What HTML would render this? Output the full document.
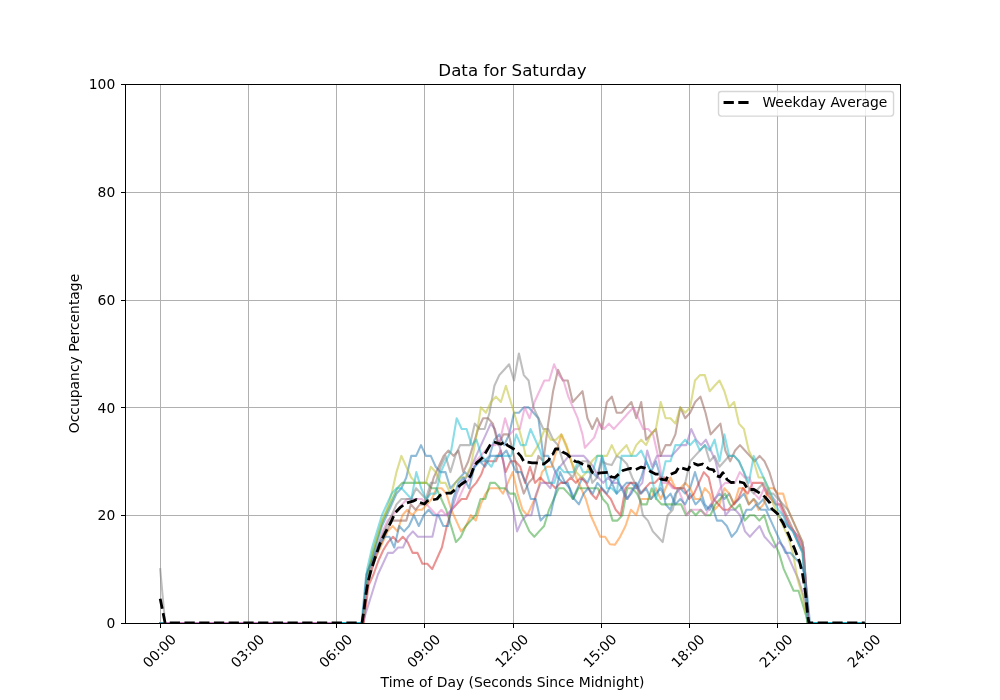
<!DOCTYPE html>
<html lang="en"><head><meta charset="utf-8"><title>Data for Saturday</title>
<style>html,body{margin:0;padding:0;background:#fff;overflow:hidden}svg{display:block}</style>
</head><body>
<svg width="1000" height="700" viewBox="0 0 1000 700">
<rect x="0" y="0" width="1000" height="700" fill="#ffffff"/>
<clipPath id="axclip"><rect x="125.5" y="84.5" width="775" height="539"/></clipPath>
<g stroke="#b0b0b0" stroke-width="1" fill="none" shape-rendering="crispEdges">
<line x1="160.5" y1="84.5" x2="160.5" y2="623.5"/>
<line x1="248.5" y1="84.5" x2="248.5" y2="623.5"/>
<line x1="336.5" y1="84.5" x2="336.5" y2="623.5"/>
<line x1="424.5" y1="84.5" x2="424.5" y2="623.5"/>
<line x1="513.5" y1="84.5" x2="513.5" y2="623.5"/>
<line x1="601.5" y1="84.5" x2="601.5" y2="623.5"/>
<line x1="689.5" y1="84.5" x2="689.5" y2="623.5"/>
<line x1="777.5" y1="84.5" x2="777.5" y2="623.5"/>
<line x1="865.5" y1="84.5" x2="865.5" y2="623.5"/>
<line x1="125.5" y1="623.5" x2="900.5" y2="623.5"/>
<line x1="125.5" y1="515.5" x2="900.5" y2="515.5"/>
<line x1="125.5" y1="407.5" x2="900.5" y2="407.5"/>
<line x1="125.5" y1="300.5" x2="900.5" y2="300.5"/>
<line x1="125.5" y1="192.5" x2="900.5" y2="192.5"/>
<line x1="125.5" y1="84.5" x2="900.5" y2="84.5"/>
</g>
<g stroke="#000000" stroke-width="1" fill="none" shape-rendering="crispEdges">
<line x1="160.5" y1="623.5" x2="160.5" y2="628.36"/>
<line x1="248.5" y1="623.5" x2="248.5" y2="628.36"/>
<line x1="336.5" y1="623.5" x2="336.5" y2="628.36"/>
<line x1="424.5" y1="623.5" x2="424.5" y2="628.36"/>
<line x1="513.5" y1="623.5" x2="513.5" y2="628.36"/>
<line x1="601.5" y1="623.5" x2="601.5" y2="628.36"/>
<line x1="689.5" y1="623.5" x2="689.5" y2="628.36"/>
<line x1="777.5" y1="623.5" x2="777.5" y2="628.36"/>
<line x1="865.5" y1="623.5" x2="865.5" y2="628.36"/>
<line x1="120.64" y1="623.5" x2="125.5" y2="623.5"/>
<line x1="120.64" y1="515.5" x2="125.5" y2="515.5"/>
<line x1="120.64" y1="407.5" x2="125.5" y2="407.5"/>
<line x1="120.64" y1="300.5" x2="125.5" y2="300.5"/>
<line x1="120.64" y1="192.5" x2="125.5" y2="192.5"/>
<line x1="120.64" y1="84.5" x2="125.5" y2="84.5"/>
</g>
<g clip-path="url(#axclip)" fill="none" stroke-width="2.083" stroke-linejoin="round" stroke-linecap="square" stroke-opacity="0.5">
<polyline stroke="#1f77b4" points="160.2,623.0 362.3,623.0 367.2,574.5 372.1,558.3 377.0,542.1 381.9,526.0 386.8,515.2 391.7,504.4 396.5,493.6 401.4,488.2 406.3,477.5 411.2,455.9 416.1,455.9 421.0,445.1 425.9,455.9 430.8,455.9 435.7,466.7 440.6,472.1 445.5,472.1 450.4,488.2 455.3,482.9 460.1,477.5 465.0,472.1 469.9,477.5 474.8,466.7 479.7,461.3 484.6,461.3 489.5,455.9 494.4,439.7 499.3,434.4 504.2,445.1 509.1,434.4 514.0,412.8 518.9,412.8 523.8,407.4 528.6,407.4 533.5,412.8 538.4,418.2 543.3,455.9 548.2,455.9 553.1,466.7 558.0,477.5 562.9,482.9 567.8,482.9 572.7,499.0 577.6,488.2 582.5,477.5 587.4,482.9 592.3,472.1 597.1,477.5 602.0,455.9 606.9,472.1 611.8,482.9 616.7,477.5 621.6,488.2 626.5,482.9 631.4,482.9 636.3,488.2 641.2,477.5 646.1,461.3 651.0,472.1 655.9,461.3 660.7,477.5 665.6,504.4 670.5,509.8 675.4,493.6 680.3,488.2 685.2,493.6 690.1,488.2 695.0,472.1 699.9,488.2 704.8,504.4 709.7,509.8 714.6,499.0 719.5,493.6 724.4,499.0 729.2,493.6 734.1,504.4 739.0,499.0 743.9,493.6 748.8,504.4 753.7,499.0 758.6,504.4 763.5,499.0 768.4,509.8 773.3,509.8 778.2,515.2 783.1,520.6 788.0,526.0 792.9,531.4 797.7,542.1 802.6,552.9 807.5,623.0 864.8,623.0"/>
<polyline stroke="#ff7f0e" points="160.2,623.0 363.3,623.0 368.2,579.9 373.1,563.7 378.0,552.9 382.8,542.1 387.7,531.4 392.6,526.0 397.5,531.4 402.4,515.2 407.3,509.8 412.2,515.2 417.1,509.8 422.0,509.8 426.9,504.4 431.8,499.0 436.7,488.2 441.6,488.2 446.4,493.6 451.3,509.8 456.2,520.6 461.1,531.4 466.0,526.0 470.9,515.2 475.8,520.6 480.7,504.4 485.6,493.6 489.9,488.2 494.3,488.2 498.6,488.2 503.0,493.6 507.8,482.9 512.7,472.1 517.6,493.6 522.5,509.8 527.3,515.2 532.2,504.4 537.1,493.6 542.0,472.1 546.9,466.7 551.7,466.7 556.6,450.5 561.5,434.4 566.4,445.1 571.2,461.3 576.1,477.5 581.0,488.2 585.8,499.0 590.6,515.2 595.5,526.0 600.3,536.8 605.1,536.8 609.9,544.3 614.8,544.8 620.1,536.8 625.5,526.0 630.9,509.8 636.3,515.2 641.2,499.0 646.1,499.0 651.0,499.0 655.9,488.2 660.7,499.0 665.6,488.2 670.5,477.5 675.4,488.2 680.3,488.2 685.2,482.9 690.1,488.2 695.0,499.0 699.9,499.0 704.8,488.2 709.7,493.6 714.6,509.8 719.5,504.4 724.4,488.2 729.2,493.6 734.1,504.4 739.0,488.2 743.9,488.2 748.8,504.4 753.7,499.0 758.6,509.8 763.5,504.4 768.4,488.2 773.3,488.2 778.2,493.6 783.1,493.6 788.0,509.8 792.9,520.6 797.7,531.4 802.6,542.1 807.5,623.0 864.8,623.0"/>
<polyline stroke="#2ca02c" points="160.2,623.0 363.0,623.0 367.9,574.5 372.8,552.9 377.7,536.8 382.6,520.6 387.5,509.8 392.4,499.0 397.3,488.2 402.2,482.9 407.1,482.9 412.0,482.9 416.8,482.9 421.7,482.9 426.6,482.9 431.5,488.2 436.4,488.2 441.3,499.0 446.2,509.8 451.1,526.0 456.0,542.1 460.9,536.8 465.8,526.0 470.7,520.6 475.6,515.2 480.5,499.0 485.3,499.0 490.2,482.9 495.1,482.9 500.0,488.2 504.9,488.2 509.8,493.6 514.7,493.6 519.6,509.8 524.5,520.6 529.4,531.4 534.3,536.8 539.2,531.4 544.1,526.0 549.0,509.8 553.8,499.0 558.7,488.2 563.6,488.2 568.5,493.6 573.4,499.0 578.3,488.2 583.2,488.2 588.1,488.2 593.0,488.2 597.9,488.2 602.8,499.0 607.7,504.4 612.6,520.6 617.4,520.6 622.3,515.2 627.2,488.2 632.1,488.2 637.0,493.6 641.9,504.4 646.8,504.4 651.7,488.2 656.6,499.0 661.5,504.4 666.4,504.4 671.3,504.4 676.2,504.4 681.1,504.4 685.9,515.2 690.8,509.8 695.7,515.2 700.6,509.8 705.5,515.2 710.4,515.2 715.3,504.4 720.2,499.0 725.1,493.6 730.0,504.4 734.9,509.8 739.8,504.4 744.7,520.6 749.6,515.2 754.4,515.2 759.3,520.6 764.2,515.2 769.1,531.4 774.0,542.1 778.9,552.9 783.8,569.1 788.7,579.9 793.6,590.7 798.5,590.7 803.4,606.8 808.3,623.0 864.8,623.0"/>
<polyline stroke="#d62728" points="160.2,623.0 363.7,623.0 368.6,585.3 373.5,574.5 378.3,561.0 383.2,550.2 388.1,542.1 393.0,536.8 397.9,542.1 402.8,536.8 407.7,542.1 412.6,552.9 417.5,552.9 422.4,563.7 427.3,563.7 432.2,569.1 437.1,558.3 441.9,547.5 446.8,526.0 451.7,509.8 456.6,504.4 461.5,499.0 466.4,499.0 471.3,488.2 476.2,482.9 481.1,474.8 486.0,461.3 490.9,461.3 495.8,461.3 500.7,450.5 505.6,472.1 510.4,461.3 515.3,461.3 520.2,466.7 525.1,482.9 530.0,466.7 535.1,482.9 540.2,477.5 545.3,482.9 550.4,482.9 555.5,488.2 560.5,482.9 565.6,482.9 570.7,477.5 575.8,482.9 580.9,477.5 586.0,482.9 591.1,493.6 596.2,499.0 601.1,488.2 606.0,493.6 610.8,499.0 615.7,509.8 620.6,515.2 625.5,488.2 630.4,482.9 635.3,482.9 640.2,493.6 645.1,488.2 650.0,482.9 654.9,482.9 659.8,477.5 664.7,477.5 669.6,482.9 674.4,488.2 679.3,488.2 684.2,488.2 689.1,499.0 694.0,493.6 698.9,482.9 703.8,472.1 708.7,477.5 713.6,499.0 718.5,504.4 723.4,509.8 728.3,509.8 733.2,504.4 738.1,499.0 742.9,488.2 747.8,493.6 752.7,482.9 757.3,482.9 761.9,482.9 766.5,493.6 771.1,499.0 775.7,504.4 780.3,504.4 784.8,515.2 789.4,526.0 794.2,531.4 799.0,542.1 803.7,552.9 808.5,623.0 864.8,623.0"/>
<polyline stroke="#9467bd" points="160.2,623.0 362.8,623.0 367.8,606.8 372.8,590.7 377.9,574.5 382.9,563.7 387.9,552.9 393.0,552.9 398.0,547.5 403.0,547.5 408.0,536.8 412.9,531.4 417.8,536.8 422.6,536.8 427.5,536.8 432.4,536.8 437.2,515.2 442.1,515.2 447.0,515.2 451.8,509.8 456.7,493.6 461.5,482.9 466.4,477.5 471.3,466.7 476.1,455.9 481.0,445.1 485.9,434.4 490.7,423.6 494.9,429.0 499.2,445.1 503.4,461.3 507.6,493.6 512.4,504.4 517.1,531.4 521.9,520.6 526.6,515.2 531.4,515.2 536.2,493.6 540.9,482.9 545.7,482.9 550.4,488.2 555.2,472.1 560.0,466.7 569.0,455.9 573.9,455.9 578.8,455.9 583.7,455.9 588.6,461.3 593.4,466.7 598.3,477.5 603.2,482.9 608.1,477.5 613.0,482.9 617.9,482.9 622.8,488.2 627.7,499.0 632.6,488.2 637.4,488.2 642.3,482.9 647.2,450.5 652.1,466.7 657.0,455.9 661.9,455.9 666.8,455.9 671.7,455.9 676.5,450.5 681.4,445.1 686.3,445.1 691.2,429.0 696.1,439.7 701.0,445.1 705.9,439.7 710.8,450.5 715.6,461.3 720.5,482.9 725.4,515.2 730.3,509.8 735.2,509.8 740.1,515.2 745.0,531.4 749.9,536.8 754.7,531.4 759.6,526.0 764.5,536.8 769.4,542.1 774.3,547.5 779.2,542.1 784.1,547.5 789.0,558.3 793.8,569.1 798.7,579.9 803.6,596.0 808.5,623.0 864.8,623.0"/>
<polyline stroke="#8c564b" points="160.2,623.0 362.3,623.0 367.2,585.3 372.1,569.1 377.0,552.9 381.9,542.1 386.8,531.4 391.7,520.6 396.5,520.6 401.4,520.6 406.3,520.6 410.9,504.4 415.5,509.8 420.0,504.4 424.6,504.4 429.2,493.6 433.7,477.5 438.7,466.7 443.6,455.9 448.5,450.5 453.5,455.9 458.4,450.5 463.3,472.1 468.3,461.3 473.2,445.1 478.1,429.0 483.1,418.2 488.0,418.2 492.9,423.6 498.2,445.1 503.4,434.4 508.7,434.4 514.0,455.9 518.9,477.5 523.8,493.6 528.6,482.9 533.5,477.5 538.4,455.9 543.3,461.3 548.2,423.6 553.1,391.2 558.0,369.7 562.9,380.5 567.8,380.5 572.7,402.0 577.6,396.6 582.5,391.2 587.4,418.2 592.3,429.0 597.1,418.2 602.0,429.0 606.9,402.0 611.8,396.6 616.7,412.8 621.6,412.8 626.5,407.4 631.4,402.0 636.3,418.2 641.2,402.0 646.1,439.7 651.0,434.4 655.9,429.0 660.7,455.9 665.6,445.1 670.5,445.1 675.4,434.4 680.3,407.4 685.2,418.2 690.1,412.8 695.2,402.0 700.4,396.6 705.5,412.8 710.7,434.4 715.5,429.0 720.4,423.6 725.3,450.5 730.2,461.3 735.1,450.5 740.0,445.1 744.9,450.5 749.8,455.9 754.7,461.3 759.6,455.9 764.5,461.3 769.4,472.1 774.3,488.2 779.2,499.0 784.0,509.8 788.9,520.6 793.8,531.4 798.7,536.8 803.6,547.5 808.5,623.0 864.8,623.0"/>
<polyline stroke="#e377c2" points="160.2,623.0 363.0,623.0 367.9,579.9 372.8,563.7 377.7,547.5 382.6,531.4 387.5,520.6 392.4,515.2 397.3,509.8 402.2,504.4 407.1,499.0 412.0,499.0 416.9,499.0 421.8,499.0 426.7,504.4 431.6,509.8 436.5,515.2 441.4,509.8 446.3,515.2 451.2,509.8 456.1,504.4 461.0,493.6 465.9,482.9 470.8,477.5 475.7,461.3 480.6,455.9 485.5,450.5 490.4,445.1 495.3,445.1 500.2,439.7 505.1,418.2 510.0,434.4 514.9,429.0 519.8,429.0 524.7,407.4 529.6,418.2 534.5,402.0 539.4,391.2 544.3,380.5 549.2,380.5 554.1,364.3 558.8,375.1 563.5,380.5 568.3,396.6 573.0,407.4 577.7,418.2 582.5,434.4 584.9,447.8 589.8,442.4 594.2,437.6 599.1,423.6 604.0,429.0 608.9,423.6 613.8,429.0 618.7,423.6 623.6,418.2 628.5,412.8 633.5,407.4 638.4,418.2 643.3,429.0 648.2,429.0 653.1,434.4 658.0,455.9 662.9,482.9 667.8,482.9 672.7,488.2 677.6,488.2 682.3,499.0 687.0,515.2 691.7,509.8 696.4,509.8 701.0,509.8 705.7,515.2 710.4,504.4 715.3,499.0 720.2,488.2 725.1,482.9 730.0,482.9 734.9,482.9 739.8,472.1 744.7,477.5 749.6,477.5 754.4,493.6 759.3,499.0 764.2,488.2 769.1,493.6 774.0,499.0 778.9,504.4 783.8,515.2 788.7,526.0 793.6,531.4 798.5,536.8 803.4,547.5 808.3,623.0 864.8,623.0"/>
<polyline stroke="#7f7f7f" points="160.2,569.1 165.1,623.0 362.3,623.0 367.2,579.9 372.1,563.7 377.0,547.5 381.9,536.8 386.8,526.0 391.7,515.2 396.5,504.4 401.4,499.0 406.3,499.0 411.2,499.0 416.1,488.2 421.0,493.6 425.9,499.0 430.8,482.9 435.7,482.9 440.6,466.7 445.5,455.9 450.4,472.1 455.3,455.9 460.1,445.1 465.0,445.1 469.9,445.1 474.8,423.6 479.7,429.0 484.6,429.0 489.5,412.8 494.4,385.8 499.3,375.1 504.2,369.7 509.1,364.3 514.0,380.5 518.9,353.5 523.8,375.1 528.6,380.5 533.5,407.4 538.4,418.2 543.3,429.0 548.2,429.0 553.1,439.7 558.0,445.1 562.9,461.3 567.8,472.1 572.7,477.5 577.6,466.7 582.5,461.3 587.4,461.3 592.3,482.9 597.1,477.5 602.0,461.3 606.9,464.0 611.8,465.1 616.7,455.9 621.6,458.6 626.9,464.0 632.2,477.5 637.6,488.2 642.9,515.2 647.9,520.6 652.8,531.4 657.8,536.8 662.7,542.1 667.7,515.2 672.7,509.8 677.6,488.2 683.3,488.2 685.2,482.9 690.1,461.3 695.0,455.9 699.9,450.5 704.8,445.1 709.7,461.3 714.6,455.9 719.5,466.7 724.4,461.3 729.2,455.9 734.1,455.9 739.0,461.3 743.9,472.1 748.8,488.2 753.7,493.6 758.6,488.2 763.5,482.9 768.4,493.6 773.3,493.6 778.2,499.0 783.1,504.4 788.0,509.8 792.9,520.6 797.7,531.4 802.6,542.1 807.5,623.0 864.8,623.0"/>
<polyline stroke="#bcbd22" points="160.2,623.0 362.3,623.0 367.2,574.5 372.1,552.9 377.0,536.8 381.9,520.6 386.8,509.8 391.7,493.6 396.5,472.1 401.4,455.9 406.3,466.7 411.2,477.5 416.1,482.9 421.0,482.9 425.9,482.9 430.8,466.7 435.7,472.1 440.6,482.9 445.5,482.9 450.4,493.6 455.3,482.9 460.4,477.5 465.5,477.5 470.7,466.7 475.8,439.7 480.9,407.4 485.9,412.8 490.9,402.0 495.9,396.6 500.9,402.0 505.9,385.8 510.8,402.0 515.7,418.2 520.6,434.4 523.3,445.1 525.7,455.9 531.6,455.9 538.4,445.1 544.8,429.0 550.7,439.7 556.0,439.7 561.2,434.4 564.4,442.4 567.8,450.5 571.2,461.3 576.3,472.1 581.5,477.5 586.6,472.1 591.8,461.3 596.9,455.9 602.0,455.9 606.9,455.9 611.8,445.1 616.7,455.9 621.6,450.5 626.5,445.1 631.4,455.9 636.3,445.1 641.2,439.7 646.1,445.1 651.0,434.4 655.9,429.0 660.7,402.0 665.6,418.2 670.5,418.2 675.4,423.6 680.3,407.4 685.2,412.8 690.1,407.4 695.0,380.5 699.9,375.1 704.8,375.1 709.7,391.2 714.6,385.8 719.5,380.5 724.4,391.2 729.2,407.4 734.1,402.0 739.0,423.6 743.9,429.0 748.8,450.5 753.7,461.3 758.6,477.5 763.5,477.5 768.4,488.2 773.3,504.4 778.2,515.2 783.1,526.0 788.0,536.8 792.9,552.9 797.7,579.9 802.6,596.0 807.5,623.0 864.8,623.0"/>
<polyline stroke="#17becf" points="160.2,623.0 362.3,623.0 367.2,569.1 372.1,547.5 377.0,531.4 381.9,515.2 386.8,504.4 391.7,493.6 396.6,488.2 401.6,488.2 406.5,493.6 411.4,499.0 416.3,472.1 421.2,488.2 426.1,499.0 431.0,493.6 435.9,493.6 440.8,472.1 445.7,461.3 451.2,450.5 456.7,418.2 461.7,429.0 466.6,429.0 471.6,445.1 476.5,439.7 481.5,455.9 486.4,461.3 491.4,466.7 496.4,455.9 501.3,455.9 506.3,455.9 511.2,455.9 516.2,434.4 520.9,445.1 525.7,445.1 530.5,429.0 535.3,439.7 540.0,450.5 544.8,466.7 549.6,482.9 554.3,482.9 559.1,466.7 563.9,472.1 568.6,472.1 573.4,472.1 578.2,461.3 583.0,472.1 587.7,472.1 592.5,472.1 597.3,455.9 602.0,455.9 606.9,488.2 611.8,488.2 616.7,493.6 621.6,455.9 626.5,455.9 631.4,455.9 636.3,455.9 641.2,450.5 646.1,461.3 651.0,472.1 655.9,499.0 660.7,482.9 665.6,461.3 670.5,461.3 675.4,445.1 680.3,445.1 685.2,439.7 690.1,445.1 695.0,439.7 699.9,450.5 704.8,445.1 709.7,450.5 714.6,439.7 719.5,461.3 724.4,434.4 729.2,455.9 734.1,455.9 739.0,461.3 743.9,472.1 748.8,482.9 753.7,455.9 758.6,466.7 763.5,477.5 768.4,488.2 773.3,499.0 778.2,509.8 783.1,515.2 788.0,526.0 792.9,531.4 797.7,542.1 802.6,552.9 807.5,623.0 864.8,623.0"/>
<polyline stroke="#1f77b4" points="160.2,623.0 361.6,623.0 366.2,574.5 370.9,563.7 375.5,552.9 380.2,542.1 384.8,536.8 389.4,536.8 394.3,547.5 399.2,526.0 404.1,531.4 409.0,526.0 413.9,515.2 418.8,526.0 423.7,515.2 428.6,509.8 433.5,515.2 438.4,515.2 443.3,526.0 448.2,526.0 453.1,499.0 458.4,482.9 463.7,477.5 469.1,488.2 474.4,466.7 479.7,461.3 485.1,466.7 490.4,455.9 495.7,455.9 501.1,455.9 506.4,450.5 511.3,461.3 516.2,472.1 521.1,472.1 526.0,482.9 530.8,499.0 535.7,499.0 540.6,520.6 545.5,515.2 550.4,515.2 555.3,493.6 560.2,472.1 565.1,482.9 569.7,488.2 574.3,499.0 578.9,504.4 583.6,493.6 588.2,488.2 592.8,493.6 597.4,482.9 602.0,488.2 606.9,493.6 611.8,482.9 616.7,493.6 621.6,488.2 626.5,499.0 631.4,493.6 636.3,482.9 641.2,493.6 646.1,488.2 651.0,499.0 655.9,493.6 660.7,488.2 665.6,499.0 670.5,493.6 675.4,504.4 680.3,499.0 685.2,504.4 690.1,493.6 695.5,504.4 700.9,499.0 706.2,509.8 711.6,504.4 717.0,520.6 721.9,520.6 726.8,526.0 731.7,536.8 736.6,531.4 741.5,520.6 746.4,509.8 751.3,509.8 756.2,504.4 761.0,509.8 765.9,509.8 770.8,520.6 775.7,531.4 780.6,542.1 785.5,552.9 790.4,552.9 795.3,558.3 800.2,563.7 805.1,574.5 810.0,623.0 864.8,623.0"/>
<polyline stroke="#e377c2" stroke-opacity="0.8" points="165.1,623 336.4,623"/>
<polyline stroke="#17becf" stroke-opacity="0.8" points="336.4,623 360.8,623"/>
<polyline stroke="#17becf" stroke-opacity="0.8" points="811.0,623 864.8,623"/>
</g>
<polyline clip-path="url(#axclip)" fill="none" stroke="#000000" stroke-width="2.78" stroke-linejoin="round" stroke-dasharray="10.28 4.44" points="160.2,598.7 165.1,623.0 362.0,623.0 364.0,610.1 366.0,593.9 368.0,582.0 371.0,570.2 375.0,558.0 379.9,544.0 385.0,533.0 391.0,522.0 395.0,513.0 400.0,507.7 405.8,503.3 413.0,501.2 416.5,499.6 420.0,502.5 424.4,504.0 427.5,500.8 437.0,499.0 440.0,495.3 446.9,493.1 450.9,493.1 457.5,487.7 461.0,484.5 468.0,479.6 470.9,475.0 473.8,467.0 476.5,462.9 480.0,460.0 483.0,457.1 486.0,452.1 490.0,445.3 493.9,442.0 501.0,444.1 505.2,441.5 507.0,445.1 512.0,448.0 515.4,450.0 521.0,456.4 523.8,461.5 532.1,462.9 536.0,462.9 544.0,464.0 548.7,460.2 551.0,455.0 553.0,454.0 555.4,449.0 560.0,449.0 562.6,452.1 566.8,454.0 573.0,460.0 575.5,461.5 579.0,462.2 584.9,465.6 589.3,466.2 592.0,472.1 595.0,474.0 600.3,472.9 607.9,472.3 611.1,476.9 614.9,477.5 619.1,473.8 622.8,470.5 630.4,468.4 634.8,469.9 641.2,467.1 644.1,467.8 647.0,468.8 651.0,471.8 655.9,474.2 658.8,474.2 660.7,479.1 666.1,480.2 668.1,475.3 675.9,472.1 678.9,467.2 688.1,469.9 690.1,465.9 694.0,463.5 697.9,465.1 702.8,464.0 709.0,469.0 713.5,469.9 716.0,475.5 719.9,476.9 722.9,472.6 727.0,479.5 731.0,482.5 740.0,482.0 743.9,483.0 747.0,488.0 750.0,489.5 754.0,489.5 761.0,494.0 765.0,497.0 770.0,503.0 772.0,509.0 778.0,514.1 780.5,519.0 782.6,522.2 788.4,534.1 794.3,548.1 799.7,562.1 802.6,574.5 805.6,593.9 808.0,617.6 809.0,623.0 864.8,623.0"/>
<rect x="125.5" y="84.5" width="775" height="539" fill="none" stroke="#000000" stroke-width="1" shape-rendering="crispEdges"/>
<g style="font-family:'DejaVu Sans','Liberation Sans',sans-serif;font-size:13.889px" fill="#000000">
<text transform="translate(148.79 668.49) rotate(-45)">00:00</text>
<text transform="translate(236.85 668.49) rotate(-45)">03:00</text>
<text transform="translate(324.92 668.49) rotate(-45)">06:00</text>
<text transform="translate(412.99 668.49) rotate(-45)">09:00</text>
<text transform="translate(501.06 668.49) rotate(-45)">12:00</text>
<text transform="translate(589.13 668.49) rotate(-45)">15:00</text>
<text transform="translate(677.19 668.49) rotate(-45)">18:00</text>
<text transform="translate(765.26 668.49) rotate(-45)">21:00</text>
<text transform="translate(853.33 668.49) rotate(-45)">24:00</text>
<text x="115.28" y="628.28" text-anchor="end">0</text>
<text x="115.28" y="520.48" text-anchor="end">20</text>
<text x="115.28" y="412.68" text-anchor="end">40</text>
<text x="115.28" y="304.88" text-anchor="end">60</text>
<text x="115.28" y="197.08" text-anchor="end">80</text>
<text x="115.28" y="89.28" text-anchor="end">100</text>
<text x="512.5" y="686.64" text-anchor="middle">Time of Day (Seconds Since Midnight)</text>
<text text-anchor="middle" transform="translate(79.32 353.50) rotate(-90)">Occupancy Percentage</text>
</g>
<text x="512.5" y="75.67" text-anchor="middle" style="font-family:'DejaVu Sans','Liberation Sans',sans-serif;font-size:16.667px" fill="#000000">Data for Saturday</text>
<rect x="718.51" y="91.54" width="175.05" height="24.55" rx="2.78" ry="2.78" fill="#ffffff" fill-opacity="0.8" stroke="#cccccc" stroke-opacity="0.8" stroke-width="1.39"/>
<line x1="723.56" y1="102.50" x2="751.34" y2="102.50" stroke="#000000" stroke-width="2.78" stroke-dasharray="10.28 4.44"/>
<text x="762.45" y="107.05" style="font-family:'DejaVu Sans','Liberation Sans',sans-serif;font-size:13.889px" fill="#000000">Weekday Average</text>
</svg>
</body></html>
